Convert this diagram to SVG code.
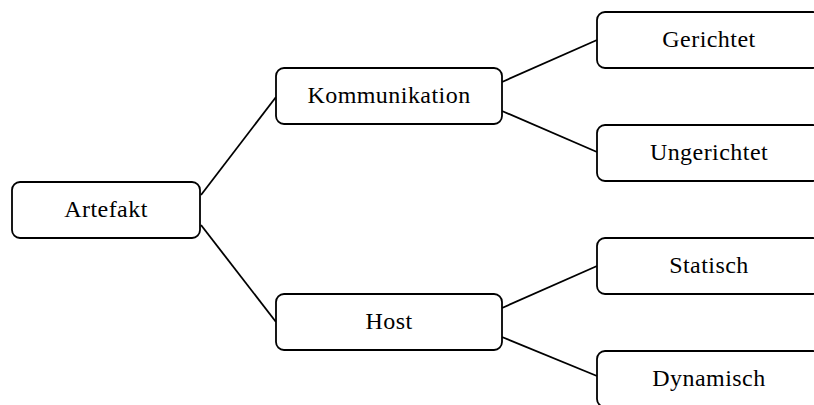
<svg xmlns="http://www.w3.org/2000/svg" width="814" height="405" viewBox="0 0 814 405">
  <style>
    .box { fill: #ffffff; stroke: #000000; stroke-width: 1.8; }
    .lbl { font-family: "Liberation Serif", "DejaVu Serif", serif; font-size: 24px; letter-spacing: 0.45px; fill: #000000; text-anchor: middle; }
    .edge { stroke: #000000; stroke-width: 1.8; fill: none; }
  </style>
  <rect width="814" height="405" fill="#ffffff"/>

  <!-- tree edges -->
  <g id="connectors">
    <line class="edge" x1="201" y1="195" x2="276" y2="97"/>
    <line class="edge" x1="201" y1="225" x2="276" y2="322"/>
    <line class="edge" x1="502" y1="82" x2="597" y2="40"/>
    <line class="edge" x1="502" y1="111" x2="597" y2="152"/>
    <line class="edge" x1="502" y1="308" x2="597" y2="266"/>
    <line class="edge" x1="502" y1="337" x2="597" y2="376"/>
  </g>

  <g id="artefakt">
    <rect class="box" x="12" y="182" width="188" height="56" rx="8"/>
    <text class="lbl" x="106" y="217">Artefakt</text>
  </g>
  <g id="kommunikation">
    <rect class="box" x="276" y="68" width="226" height="56" rx="8"/>
    <text class="lbl" x="389" y="103">Kommunikation</text>
  </g>
  <g id="host">
    <rect class="box" x="276" y="294" width="226" height="56" rx="8"/>
    <text class="lbl" x="389" y="329">Host</text>
  </g>
  <g id="gerichtet">
    <rect class="box" x="597" y="12" width="224" height="56" rx="8"/>
    <text class="lbl" x="709" y="47">Gerichtet</text>
  </g>
  <g id="ungerichtet">
    <rect class="box" x="597" y="125" width="224" height="56" rx="8"/>
    <text class="lbl" x="709" y="160">Ungerichtet</text>
  </g>
  <g id="statisch">
    <rect class="box" x="597" y="238" width="224" height="56" rx="8"/>
    <text class="lbl" x="709" y="273">Statisch</text>
  </g>
  <g id="dynamisch">
    <rect class="box" x="597" y="351" width="224" height="56" rx="8"/>
    <text class="lbl" x="709" y="386">Dynamisch</text>
  </g>
</svg>
